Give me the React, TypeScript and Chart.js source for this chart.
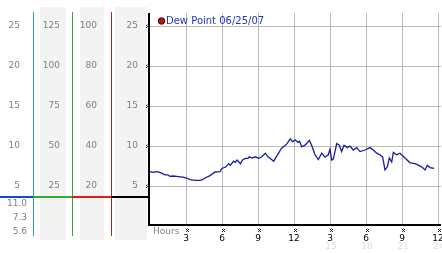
import React, { useEffect, useRef } from 'react';
import { Chart, registerables } from 'chart.js';

Chart.register(...registerables);

// ---- data ----
const seriesLabel = 'Dew Point 06/25/07';
const hours = [
  0, 0.25, 0.56, 0.83, 1.04, 1.25, 1.46, 1.67, 1.92, 2.22, 2.5, 2.75, 3.04, 3.33, 3.75, 4.17, 4.38, 4.58,
  5.0, 5.42, 5.83, 6.0, 6.33, 6.56, 6.69, 6.97, 7.11, 7.25, 7.53, 7.72, 7.94, 8.17, 8.28, 8.5, 8.78,
  9.06, 9.33, 9.61, 9.83, 10.03, 10.31, 10.44, 10.72, 10.94, 11.14, 11.42, 11.69, 11.89, 12.11, 12.33,
  12.47, 12.64, 12.92, 13.28, 13.47, 13.75, 14.03, 14.31, 14.58, 14.86, 15.0, 15.14, 15.28, 15.56,
  15.78, 15.97, 16.17, 16.44, 16.67, 16.94, 17.22, 17.5, 17.92, 18.33, 18.61, 18.89, 19.17, 19.39,
  19.58, 19.78, 19.94, 20.14, 20.28, 20.56, 20.83, 21.25, 21.67, 22.08, 22.36, 22.64, 22.92, 23.11,
  23.33, 23.67,
];
const dewPoint = [
  6.8, 6.7, 6.8, 6.7, 6.55, 6.4, 6.4, 6.2, 6.25, 6.2, 6.15, 6.1, 6.0, 5.8, 5.7, 5.7, 5.8, 6.0,
  6.3, 6.75, 6.8, 7.2, 7.4, 7.8, 7.6, 8.1, 7.95, 8.25, 7.8, 8.25, 8.45, 8.45, 8.65, 8.5, 8.65,
  8.45, 8.65, 9.1, 8.65, 8.45, 8.1, 8.45, 9.1, 9.7, 9.9, 10.3, 10.9, 10.55, 10.75, 10.45,
  10.6, 9.9, 10.1, 10.7, 10.1, 8.9, 8.3, 9.1, 8.6, 8.9, 9.6, 8.25, 8.4, 10.3,
  10.1, 9.3, 10.1, 9.8, 10.0, 9.5, 9.8, 9.3, 9.5, 9.8, 9.5, 9.1, 8.9, 8.6,
  7.0, 7.4, 8.5, 8.0, 9.2, 8.9, 9.1, 8.5, 7.9, 7.8, 7.6, 7.4, 7.0, 7.6,
  7.3, 7.2,
];
const hourTickLabels = ['', '3', '6', '9', '12', '3', '6', '9', '12'];
const dayHourLabels = ['', '', '', '', '', '15', '18', '21', '24'];
const statLabels = ['11.0', '7.3', '5.6'];
const axisFactors = [1, 5, 4, 1];
const axisSteps = [5, 25, 20, 5];
const yMax = 26.625;
const xMax = 24.25;
const refLevel = 3.6;

const FONT = 'DejaVu Sans';
const GRAY = '#808080';

function drawMark(ctx: CanvasRenderingContext2D, x: number, y: number) {
  ctx.fillStyle = '#222';
  const px = [[0, 0], [2, 0], [1, 1], [0, 2], [2, 2]];
  for (const [dx, dy] of px) ctx.fillRect(Math.round(x) - 1 + dx, Math.round(y) - 1 + dy, 1, 1);
  ctx.fillStyle = '#999';
  ctx.fillRect(Math.round(x), Math.round(y) - 2, 1, 1);
}

function noPad(s: any) {
  s.paddingLeft = 0;
  s.paddingRight = 0;
  s.paddingTop = 0;
  s.paddingBottom = 0;
}

const decor = {
  id: 'decor',
  beforeDraw(chart: any) {
    const { ctx, scales, chartArea } = chart;
    ctx.save();
    ctx.fillStyle = '#ffffff';
    ctx.fillRect(0, 0, chart.width, chart.height);
    const top = chartArea.top - 6;
    const bottom = chartArea.bottom + 14;
    ctx.fillStyle = '#f3f3f3';
    const b = scales.yB, c = scales.yC, d = scales.y;
    ctx.fillRect(b.left + 7, top, 26, bottom - top);
    ctx.fillRect(c.left + 8, top, 24, bottom - top);
    ctx.fillRect(d.left + 4, top, 32, bottom - top);
    ctx.restore();
  },
  afterDraw(chart: any) {
    const { ctx, scales, chartArea } = chart;
    const y = scales.y, x = scales.x;
    const cols = [scales.yA, scales.yB, scales.yC, scales.y];
    ctx.save();
    // vertical separators
    const vColors = ['#3399cc', '#33a533', '#a82424'];
    for (let i = 0; i < 3; i++) {
      ctx.fillStyle = vColors[i];
      ctx.fillRect(Math.round(cols[i].right), chartArea.top - 1, 1, chartArea.bottom - chartArea.top + 11);
    }
    // horizontal reference line
    const ry = Math.round(y.getPixelForValue(refLevel)) - 1;
    const hColors = ['#1646d6', '#2fae2f', '#e01b1b', '#000000'];
    for (let i = 0; i < 4; i++) {
      ctx.fillStyle = hColors[i];
      ctx.fillRect(cols[i].left, ry, cols[i].right - cols[i].left, 2);
    }
    // axes
    ctx.fillStyle = '#000';
    ctx.fillRect(chartArea.left - 2, chartArea.top, 2, chartArea.bottom - chartArea.top);
    ctx.fillRect(chartArea.left - 2, chartArea.bottom - 2, chartArea.right - chartArea.left + 2, 2);
    // tick marks
    for (const t of y.ticks) {
      if (t.value <= 0) continue;
      drawMark(ctx, chartArea.left - 3, y.getPixelForValue(t.value));
    }
    for (const t of x.ticks) {
      if (t.value <= 0) continue;
      drawMark(ctx, x.getPixelForValue(t.value) + 1, chartArea.bottom + 4);
    }
    // texts
    ctx.font = `9px "${FONT}"`;
    ctx.textBaseline = 'middle';
    ctx.fillStyle = GRAY;
    ctx.textAlign = 'right';
    statLabels.forEach((s, i) => ctx.fillText(s, 27, ry + 8 + i * 14));
    ctx.textAlign = 'left';
    ctx.fillText('Hours', chartArea.left + 3, chartArea.bottom + 6);
    ctx.fillStyle = '#dddddd';
    ctx.textAlign = 'center';
    x.ticks.forEach((t: any, i: number) => {
      const s = dayHourLabels[i];
      if (s) ctx.fillText(s, x.getPixelForValue(t.value) + 1, chartArea.bottom + 21);
    });
    // legend
    ctx.beginPath();
    ctx.arc(chartArea.left + 11.5, chartArea.top + 8, 3.3, 0, Math.PI * 2);
    ctx.fillStyle = '#b01515';
    ctx.fill();
    ctx.strokeStyle = '#5a0000';
    ctx.lineWidth = 1;
    ctx.stroke();
    ctx.font = `10px "${FONT}"`;
    ctx.fillStyle = '#2233bb';
    ctx.textAlign = 'left';
    ctx.fillText(chart.data.datasets[0].label, chartArea.left + 16, chartArea.top + 8);
    ctx.restore();
  },
};

function sideAxis(idx: number, width: number, padding: number, weight: number) {
  return {
    type: 'linear',
    position: 'left',
    weight,
    min: 0,
    max: yMax * axisFactors[idx],
    grid: { display: false, drawTicks: false },
    border: { display: false },
    ticks: {
      stepSize: axisSteps[idx],
      includeBounds: false,
      padding,
      color: GRAY,
      font: { family: FONT, size: 9 },
      callback: (v: number) => (v === 0 ? '' : String(v)),
    },
    afterFit: (s: any) => {
      s.width = width;
      noPad(s);
    },
  };
}

export default function App() {
  const ref = useRef<HTMLCanvasElement>(null);
  useEffect(() => {
    document.body.style.margin = '0';
    const canvas = ref.current!;
    const chart = new Chart(canvas, {
      type: 'line',
      data: {
        datasets: [
          {
            label: seriesLabel,
            data: hours.map((h, i) => ({ x: h, y: dewPoint[i] })),
            borderColor: '#1a1aa0',
            borderWidth: 1.3,
            pointRadius: 0,
            tension: 0,
            fill: false,
          },
        ],
      },
      options: {
        animation: false,
        responsive: false,
        devicePixelRatio: 1,
        layout: { padding: { top: 13, right: 1, left: 0, bottom: 0 } },
        plugins: { legend: { display: false }, tooltip: { enabled: false } },
        scales: {
          x: {
            type: 'linear',
            min: 0,
            max: xMax,
            grid: {
              drawTicks: false,
              color: (c: any) => (c.tick && c.tick.value === 0 ? 'rgba(0,0,0,0)' : '#bbbbbb'),
            },
            border: { display: false },
            ticks: {
              stepSize: 3,
              includeBounds: false,
              padding: 7,
              color: '#000',
              maxRotation: 0,
              autoSkip: false,
              font: { family: FONT, size: 9 },
              callback: (_v: number, i: number) => hourTickLabels[i] ?? '',
            },
            afterFit: (s: any) => {
              s.height = 27;
              noPad(s);
            },
          },
          yA: sideAxis(0, 33, 13, 4) as any,
          yB: sideAxis(1, 39, 12, 3) as any,
          yC: sideAxis(2, 39, 14, 2) as any,
          y: {
            type: 'linear',
            position: 'left',
            weight: 1,
            min: 0,
            max: yMax,
            grid: {
              drawTicks: false,
              color: (c: any) => (c.tick && c.tick.value === 0 ? 'rgba(0,0,0,0)' : '#bbbbbb'),
            },
            border: { display: false },
            ticks: {
              stepSize: 5,
              includeBounds: false,
              padding: 12,
              color: GRAY,
              font: { family: FONT, size: 9 },
              callback: (v: number) => (v === 0 ? '' : String(v)),
            },
            afterFit: (s: any) => {
              s.width = 39;
              noPad(s);
            },
          },
        },
      },
      plugins: [decor],
    });
    return () => chart.destroy();
  }, []);
  return (
    <div style={{ width: 442, height: 253 }}>
      <canvas ref={ref} width={442} height={253} style={{ display: 'block', width: 442, height: 253 }} />
    </div>
  );
}
